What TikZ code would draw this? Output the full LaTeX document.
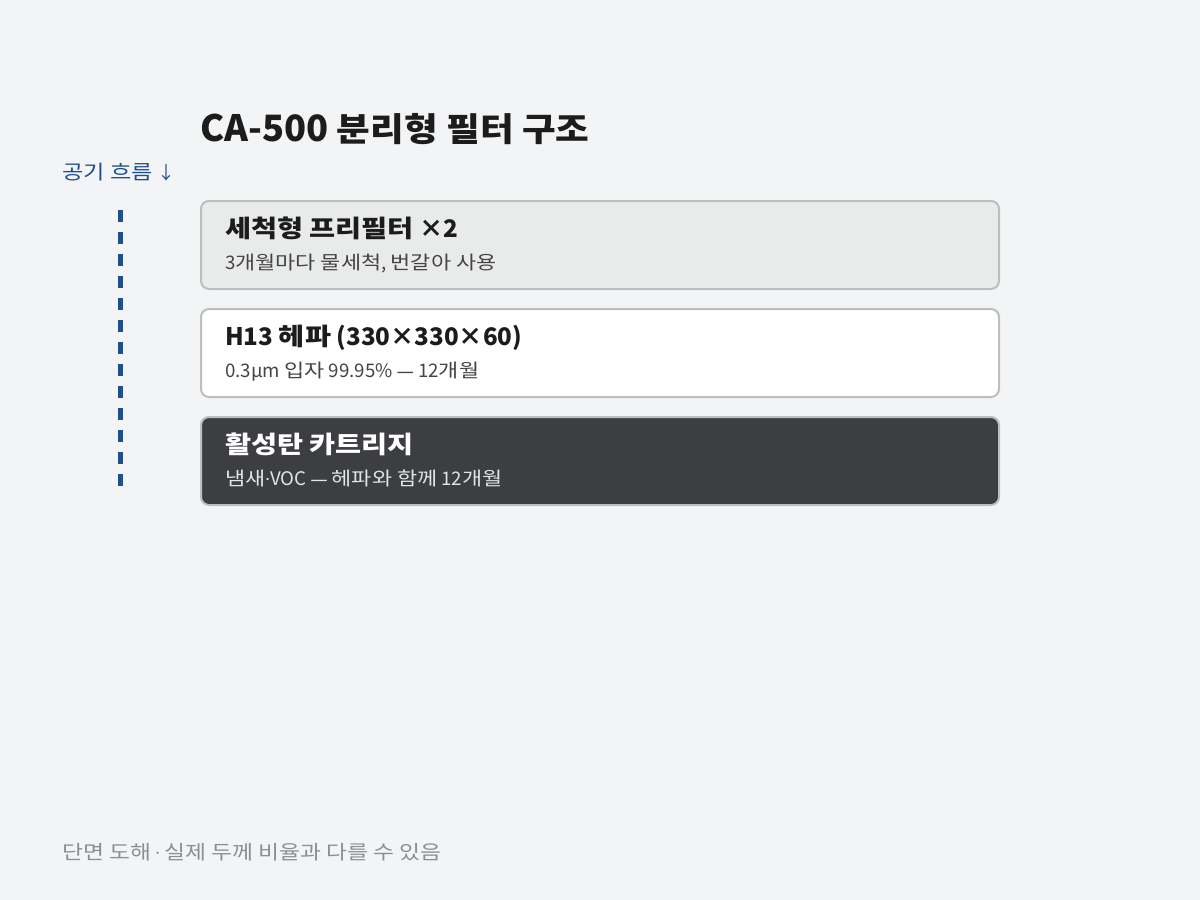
\documentclass[tikz,border=0pt]{standalone}
\usepackage{fontspec}
\setmainfont[Scale=1.1]{Noto Sans CJK KR}
\newfontfamily\kr[Scale=1.1,FakeStretch=1.17]{Noto Sans CJK KR}
\newfontfamily\krt[FakeStretch=1.11]{Noto Sans CJK KR}
\newfontfamily\cjk{Noto Sans CJK KR}
\newfontfamily\lat{Noto Sans}
\definecolor{bgc}{HTML}{F3F4F6}
\definecolor{bordc}{HTML}{BDBEBE}
\definecolor{prefill}{HTML}{E9EAEA}
\definecolor{darkfill}{HTML}{3D3E41}
\definecolor{inkc}{HTML}{1C1C1C}
\definecolor{subc}{HTML}{444444}
\definecolor{subw}{HTML}{E2E3E4}
\definecolor{flowc}{HTML}{1F4E8C}
\definecolor{footc}{HTML}{8C8E91}
\tikzset{
  layer/.style={draw=bordc, line width=2pt, rounded corners=8pt, minimum width=798pt, minimum height=88pt, inner sep=0pt},
  ttl/.style={anchor=base west, inner sep=0pt, font=\fontsize{22}{26}\selectfont\bfseries},
  sub/.style={anchor=base west, inner sep=0pt, font=\fontsize{17}{20}\selectfont},
  flowline/.style={draw=flowc, line width=5pt, dash pattern=on 12pt off 10pt}
}
\begin{document}
\begin{tikzpicture}[x=1pt,y=-1pt]
\useasboundingbox (0,0) rectangle (1200,900);
\fill[bgc] (0,0) rectangle (1200,900);
\node[anchor=base west, inner sep=0pt, text=inkc, font=\fontsize{33}{40}\selectfont\bfseries] (title) at (200,141) {CA-500 {\krt 분리형 필터 구조}};
\node[anchor=base west, inner sep=0pt, text=flowc, font=\fontsize{18}{22}\selectfont] (flowlbl) at (62,179) {{\kr 공기 흐름} {\cjk ↓}};
\coordinate (flowTop) at (120,210);
\coordinate (flowBot) at (120,486);
\draw[flowline] (flowTop) -- (flowBot);
\node[layer, fill=prefill] (pre) at (600,245) {};
\node[layer, fill=white] (hepa) at (600,353) {};
\node[layer, fill=darkfill] (carbon) at (600,461) {};
\node[ttl, text=inkc] (preT) at (225,237) {{\kr 세척형 프리필터} ×2};
\node[sub, text=subc] (preS) at (225,269) {3{\kr 개월마다 물세척}, {\kr 번갈아 사용}};
\node[ttl, text=inkc] (hepaT) at (225,345) {H13 {\kr 헤파} (330×330×60)};
\node[sub, text=subc] (hepaS) at (225,377) {0.3μm {\kr 입자} 99.95\% {\lat —} 12{\kr 개월}};
\node[ttl, text=white] (carbonT) at (225,453) {{\kr 활성탄 카트리지}};
\node[sub, text=subw] (carbonS) at (225,485) {{\kr 냄새}{\lat ·}VOC {\lat —} {\kr 헤파와 함께} 12{\kr 개월}};
\node[anchor=base west, inner sep=0pt, text=footc, font=\fontsize{17.7}{22}\selectfont] (foot) at (62,859) {{\kr 단면 도해} {\lat ·} {\kr 실제 두께 비율과 다를 수 있음}};
\end{tikzpicture}
\end{document}
